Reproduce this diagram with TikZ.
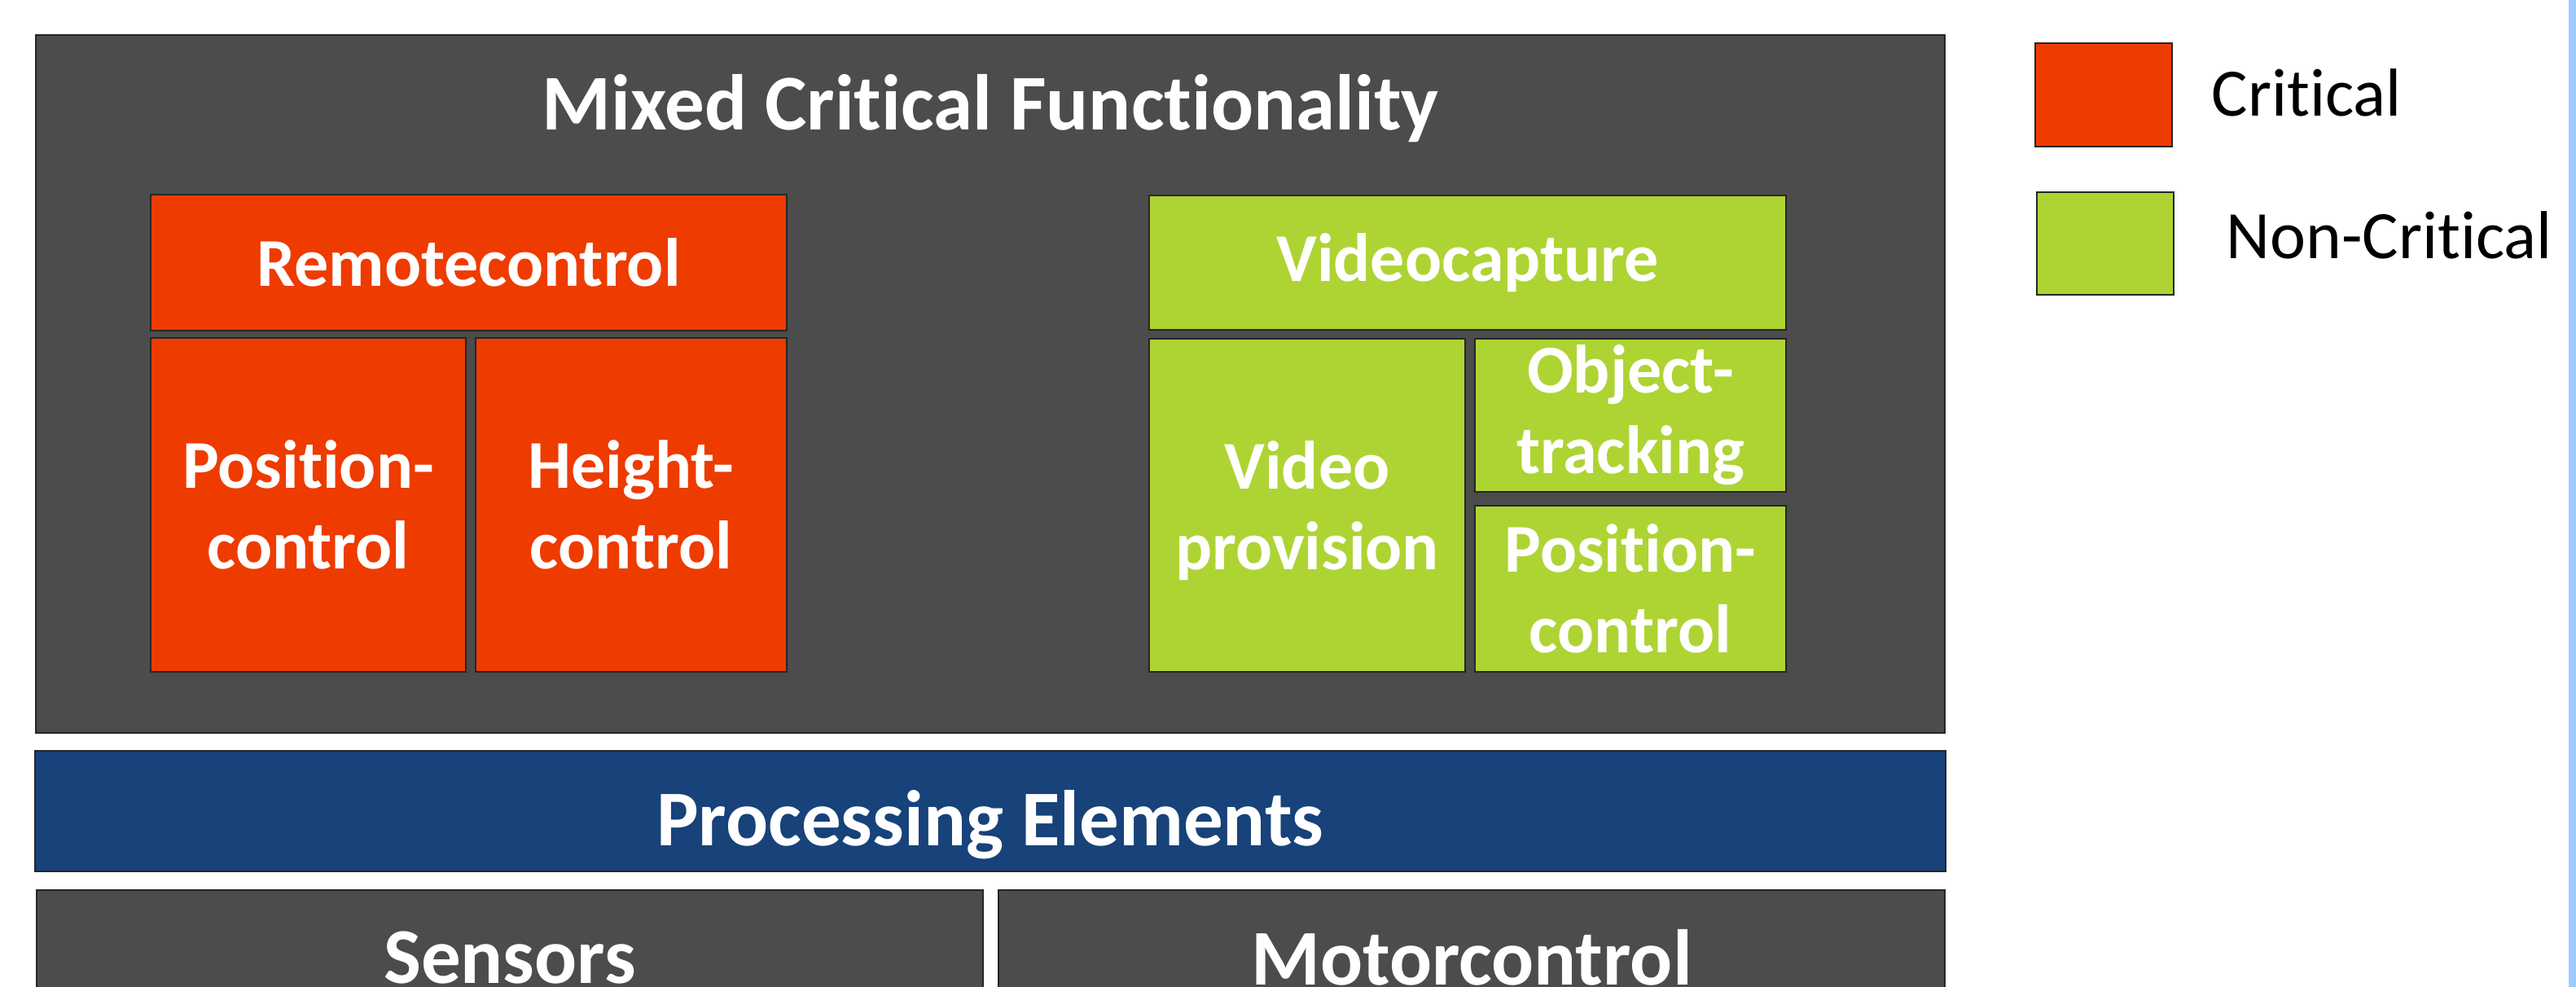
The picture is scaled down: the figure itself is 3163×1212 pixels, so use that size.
\documentclass[tikz,border=0pt]{standalone}
\usepackage{fontspec}
\setmainfont{Carlito}[Ligatures=NoCommon]

\definecolor{layergray}{HTML}{4B4C4B}
\definecolor{critred}{HTML}{EE3B00}
\definecolor{ncgreen}{HTML}{ADD433}
\definecolor{peblue}{HTML}{17427A}
\definecolor{selblue}{HTML}{9DCBFF}

\begin{document}
\begin{tikzpicture}[x=0.01cm,y=-0.01cm,
	box/.style={rectangle,draw=black!85,line width=0.5pt,inner sep=0pt,outer sep=0pt,text=white,align=center,font=\bfseries\fontsize{23.9}{28.2}\selectfont},
	crit/.style={box,fill=critred},
	noncrit/.style={box,fill=ncgreen},
	layer/.style={box,fill=layergray,font=\bfseries\fontsize{27.6}{33}\selectfont},
	headline/.style={anchor=base,text=white,inner sep=0pt,font=\bfseries\fontsize{27.6}{33}\selectfont},
	legendtext/.style={anchor=base west,inner sep=0pt,text=black,font=\fontsize{23.7}{28}\selectfont}]

			\useasboundingbox (0,0) rectangle (3163,1212);
			\clip (0,0) rectangle (3163,1212);

			\node (mixed)	at	(1216,471.5) [layer,minimum width=23.42cm,minimum height=8.57cm] {};
			\node (title)	at	(1216,159) [headline] {Mixed Critical Functionality};

			\node (remote)	at	(575.5,322.5) [crit,minimum width=7.81cm,minimum height=1.67cm] {Remotecontrol};
			\node (posctl)	at	(378.5,620) [crit,minimum width=3.87cm,minimum height=4.10cm] {Position-\\control};
			\node (heightctl)	at	(775,620) [crit,minimum width=3.82cm,minimum height=4.10cm] {Height-\\control};

			\node (capture)	at	(1802,322.5) [noncrit,minimum width=7.82cm,minimum height=1.65cm] {Videocapture};
			\node (provision)	at	(1605,620.5) [noncrit,text depth=0pt,minimum width=3.88cm,minimum height=4.09cm] {Video\\provision};
			\node (tracking)	at	(2002,510) [noncrit,minimum width=3.82cm,minimum height=1.88cm] {Object-\\tracking};
			\node (posnc)	at	(2002,723) [noncrit,minimum width=3.82cm,minimum height=2.04cm] {Position-\\control};

			\node (proc)	at	(1216,996) [box,fill=peblue,minimum width=23.44cm,minimum height=1.48cm] {};
			\node (proctxt)	at	(1216,1038) [headline] {Processing Elements};

			\node (sensors)	at	(626,1176) [layer,minimum width=11.62cm,minimum height=1.66cm] {Sensors};
			\node (motor)	at	(1807,1176) [layer,minimum width=11.62cm,minimum height=1.66cm] {Motorcontrol};

			\node (keycrit)	at	(2583,116.5) [box,fill=critred,minimum width=1.68cm,minimum height=1.27cm] {};
			\node (keync)	at	(2585,299) [box,fill=ncgreen,minimum width=1.68cm,minimum height=1.26cm] {};
			\node (keycrittxt)	at	(2715,142) [legendtext] {Critical};
			\node (keynctxt)	at	(2733,317) [legendtext] {Non-Critical};

			\fill[selblue] (3154,0) rectangle (3163,1212);

		\end{tikzpicture}
\end{document}
